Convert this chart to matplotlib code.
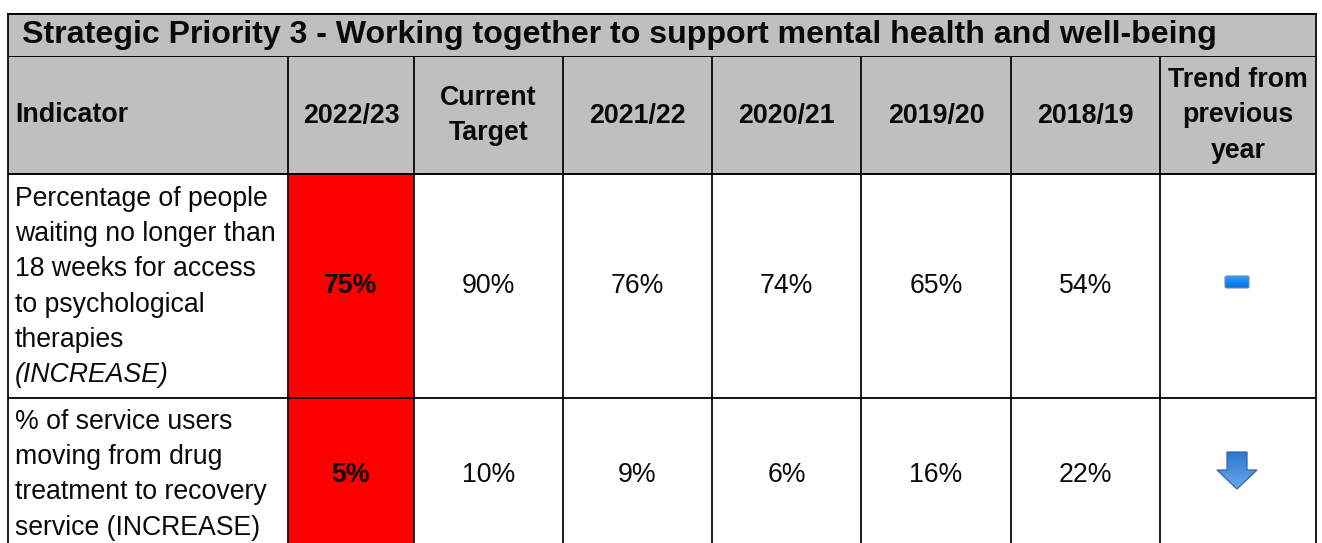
import matplotlib
matplotlib.use("Agg")
import matplotlib.pyplot as plt
from matplotlib.patches import Rectangle, Polygon, FancyBboxPatch
import numpy as np

plt.rcParams['font.family'] = ['Liberation Sans', 'DejaVu Sans']

title = "Strategic Priority 3 - Working together to support mental health and well-being"
headers = ["Indicator", "2022/23", "Current\nTarget", "2021/22", "2020/21", "2019/20", "2018/19", "Trend from\nprevious\nyear"]
indicator_lines = [
    ["Percentage of people", "waiting no longer than", "18 weeks for access", "to psychological", "therapies"],
    ["% of service users", "moving from drug", "treatment to recovery", "service (INCREASE)"],
]
indicator_notes = ["(INCREASE)", None]
current = ["75%", "5%"]
target = ["90%", "10%"]
y2122 = ["76%", "9%"]
y2021 = ["74%", "6%"]
y1920 = ["65%", "16%"]
y1819 = ["54%", "22%"]
trend = ["same", "down"]

W, H = 1322, 543
col_x = [8, 288, 414, 563, 712, 861, 1011, 1160, 1316]
top, title_b, head_b, row1_b = 13.5, 56, 174, 398
row_b = [row1_b, 560]
GREY = "#bfbfbf"
FS = 19.2
FSB = 19.3
INK = "#0a0a0a"

fig = plt.figure(figsize=(W/100, H/100), dpi=100)
ax = fig.add_axes([0, 0, 1, 1])
ax.set_xlim(0, W); ax.set_ylim(H, 0); ax.axis("off")

ax.add_patch(Rectangle((col_x[0], top), col_x[-1]-col_x[0], head_b-top, fc=GREY, ec="none", zorder=1))
ax.text(22, 35.5, title, fontsize=23.13, fontweight="bold", va="center", ha="left", color=INK, zorder=5)

for i, h in enumerate(headers):
    if i == 0:
        ax.text(15, 115.5, h, fontsize=FSB, fontweight="bold", va="center", ha="left", color=INK, zorder=5)
    else:
        cx = (col_x[i]+col_x[i+1])/2
        lines = h.split("\n")
        y0 = 115.5 - 17.8*(len(lines)-1)
        for k, l in enumerate(lines):
            ax.text(cx, y0+35.6*k, l, fontsize=FSB, fontweight="bold", va="center", ha="center", color=INK, zorder=5)

row_tops = [head_b, row1_b]
row_centers = [284, 473]
first_y = [199, 422]
columns = [target, y2122, y2021, y1920, y1819]
LINE = 35.2
for r in range(2):
    ax.add_patch(Rectangle((col_x[1], row_tops[r]), col_x[2]-col_x[1], row_b[r]-row_tops[r], fc="#ff0000", ec="none", zorder=1))
    for k, l in enumerate(indicator_lines[r]):
        ax.text(15, first_y[r]+LINE*k, l, fontsize=FS, va="center", ha="left", color=INK, zorder=5)
    if indicator_notes[r]:
        ax.text(15, first_y[r]+LINE*len(indicator_lines[r]), indicator_notes[r], fontsize=FS, style="italic", va="center", ha="left", color=INK, zorder=5)
    ax.text((col_x[1]+col_x[2])/2, row_centers[r]+2, current[r], fontsize=FSB, fontweight="bold", va="center", ha="center", color=INK, zorder=5)
    for c, col in enumerate(columns):
        ax.text((col_x[c+2]+col_x[c+3])/2, row_centers[r]+2, col[r], fontsize=FS, va="center", ha="center", color=INK, zorder=5)

# vertical and horizontal rules
for i, x in enumerate(col_x):
    y0 = top if i in (0, len(col_x)-1) else title_b
    ax.plot([x, x], [y0, H+5], color="black", lw=1.25, zorder=6, solid_capstyle="butt")
ax.plot([col_x[0]-1, col_x[-1]+1], [top, top], color="black", lw=1.4, zorder=6, solid_capstyle="butt")
ax.plot([col_x[0], col_x[-1]], [title_b, title_b], color="black", lw=0.7, zorder=6, solid_capstyle="butt")
ax.plot([col_x[0], col_x[-1]], [head_b, head_b], color="black", lw=1.4, zorder=6, solid_capstyle="butt")
ax.plot([col_x[0], col_x[-1]], [row1_b, row1_b], color="black", lw=1.3, zorder=6, solid_capstyle="butt")

# trend icons
def gradient_clip(patch, extent, c0, c1):
    g = np.linspace(0, 1, 32)[:, None]
    cols = np.array(matplotlib.colors.to_rgb(c0))*(1-g) + np.array(matplotlib.colors.to_rgb(c1))*g
    im = ax.imshow(cols[:, None, :].reshape(32, 1, 3), extent=extent, aspect="auto", zorder=4, interpolation="bilinear")
    im.set_clip_path(patch)
    ax.set_xlim(0, W); ax.set_ylim(H, 0)

cx = 1237
for r, t in enumerate(trend):
    cy = row_centers[r]
    if t == "same":
        p = FancyBboxPatch((cx-12, cy-8), 24, 12, boxstyle="round,pad=0,rounding_size=1.5", fc="none", ec="#6f8fb5", lw=0.8, zorder=5)
        ax.add_patch(p)
        gradient_clip(p, (cx-13, cx+13, cy+5, cy-9), "#2ea4fa", "#0068e0")
    else:
        pts = [(cx-10, cy-21), (cx+10, cy-21), (cx+10, cy-3), (cx+20, cy-3), (cx, cy+16), (cx-20, cy-3), (cx-10, cy-3)]
        p = Polygon(pts, closed=True, fc="none", ec="#3566a8", lw=0.9, zorder=5)
        ax.add_patch(p)
        gradient_clip(p, (cx-21, cx+21, cy+16, cy-21), "#2f78cf", "#68a8ec")

fig.savefig("out.png", dpi=100, facecolor="white")
